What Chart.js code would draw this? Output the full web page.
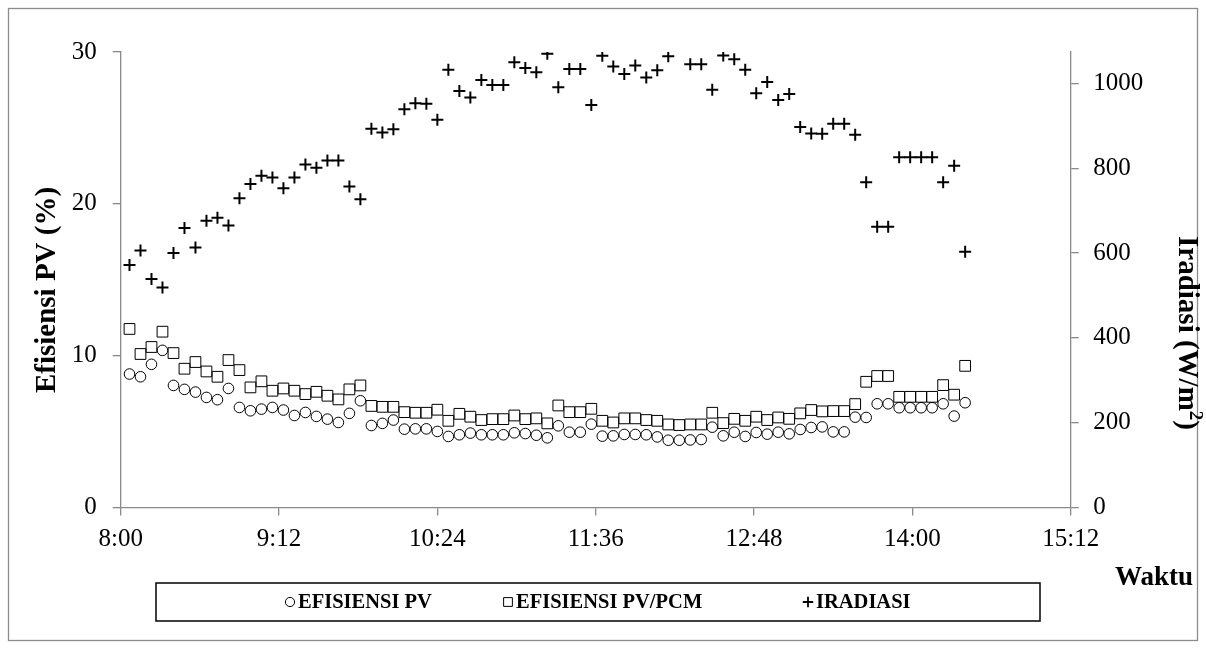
<!DOCTYPE html>
<html>
<head>
<meta charset="utf-8">
<script src="https://cdn.jsdelivr.net/npm/chart.js@4.4.1/dist/chart.umd.min.js"></script>
<style>
html,body{margin:0;padding:0;background:#fff;}
canvas{display:block;}
</style>
</head>
<body>
<canvas id="c" width="1206" height="648"></canvas>
<script>
const times = [
 "8:04","8:09","8:14","8:19","8:24","8:29","8:34","8:39","8:44","8:49",
 "8:54","8:59","9:04","9:09","9:14","9:19","9:24","9:29","9:34","9:39",
 "9:44","9:49","9:54","9:59","10:04","10:09","10:14","10:19","10:24","10:29",
 "10:34","10:39","10:44","10:49","10:54","10:59","11:04","11:09","11:14","11:19",
 "11:24","11:29","11:34","11:39","11:44","11:49","11:54","11:59","12:04","12:09",
 "12:14","12:19","12:24","12:29","12:34","12:39","12:44","12:49","12:54","12:59",
 "13:04","13:09","13:14","13:19","13:24","13:29","13:34","13:39","13:44","13:49",
 "13:54","13:59","14:04","14:09","14:14","14:19","14:24"
];
const efisiensiPV = [
 8.79,8.61,9.43,10.35,8.04,7.78,7.60,7.25,7.10,7.84,
 6.59,6.37,6.48,6.59,6.42,6.06,6.26,6.00,5.82,5.60,
 6.20,7.03,5.40,5.54,5.76,5.16,5.18,5.18,5.01,4.68,
 4.79,4.90,4.79,4.79,4.79,4.92,4.87,4.76,4.59,5.38,
 4.96,4.96,5.49,4.70,4.72,4.81,4.81,4.79,4.65,4.43,
 4.43,4.45,4.48,5.29,4.72,4.96,4.68,4.94,4.83,4.96,
 4.85,5.14,5.27,5.31,4.98,4.98,5.95,5.93,6.83,6.83,
 6.57,6.57,6.57,6.57,6.83,6.02,6.90
];
const efisiensiPVPCM = [
 11.76,10.11,10.57,11.58,10.17,9.14,9.58,8.96,8.61,9.71,
 9.05,7.91,8.31,7.69,7.84,7.69,7.47,7.62,7.36,7.12,
 7.78,8.04,6.69,6.63,6.63,6.28,6.24,6.24,6.44,5.71,
 6.17,5.98,5.76,5.82,5.82,6.06,5.82,5.87,5.54,6.72,
 6.28,6.28,6.50,5.71,5.60,5.87,5.87,5.76,5.71,5.47,
 5.43,5.47,5.47,6.24,5.56,5.84,5.71,5.98,5.76,5.93,
 5.84,6.20,6.42,6.33,6.35,6.35,6.81,8.28,8.66,8.66,
 7.29,7.29,7.29,7.29,8.06,7.43,9.33
];
const iradiasi = [
 572,606,539,519,600,659,613,676,683,665,
 729,763,782,778,753,778,809,801,818,818,
 757,727,893,884,892,939,953,952,914,1032,
 982,967,1008,996,996,1050,1036,1026,1070,991,
 1034,1034,949,1065,1040,1022,1042,1014,1031,1064,
 null,1045,1045,985,1066,1057,1032,977,1003,961,
 975,897,882,881,905,905,879,767,662,662,
 826,826,826,826,767,806,603
];
const xTickLabels = ["8:00","9:12","10:24","11:36","12:48","14:00","15:12"];
const leftTicks = [0,10,20,30];
const rightTicks = [0,200,400,600,800,1000];
const seriesNames = ["EFISIENSI PV","EFISIENSI PV/PCM","IRADIASI"];

function toMin(s){ const p = s.split(':'); return (+p[0])*60 + (+p[1]); }
function fmt(v){ const h = Math.floor(v/60), m = Math.round(v - h*60); return h + ':' + (m<10?'0':'') + m; }
function pts(arr){ return times.map((t,i)=>({x:toMin(t), y:arr[i]})).filter(p=>p.y!==null); }

const FONT = '"Liberation Serif", "Times New Roman", serif';
const AX = '#8a8a8a';

// legend layout (pixel placement of the custom legend)
const legendLayout = {box:[156, 583, 884, 38], cy:602, markerX:[290, 508, 808], markerR:[4.6, 6.2, 5.2]};

const decor = {
  id:'decor',
  beforeDraw(chart){
    const c = chart.ctx;
    c.save();
    c.fillStyle = '#fff';
    c.fillRect(0,0,chart.width,chart.height);
    c.strokeStyle = '#8c8c8c';
    c.lineWidth = 1.3;
    c.strokeRect(8.5, 8.5, 1189, 632);
    c.restore();
  },
  afterDraw(chart){
    const c = chart.ctx;
    c.save();
    // legend
    const L = legendLayout;
    c.strokeStyle = '#111';
    c.lineWidth = 1.6;
    c.strokeRect(L.box[0], L.box[1], L.box[2], L.box[3]);
    chart.data.datasets.forEach((ds, i) => {
      c.save();
      c.strokeStyle = ds.borderColor;
      c.fillStyle = 'rgba(0,0,0,0)';
      c.lineWidth = ds.pointStyle === 'cross' ? 1.8 : 1;
      Chart.helpers.drawPoint(c, {pointStyle: ds.pointStyle, radius: L.markerR[i], rotation: 0, borderWidth: c.lineWidth}, L.markerX[i], L.cy);
      c.restore();
      c.fillStyle = '#000';
      c.font = 'bold 20.5px ' + FONT;
      c.textAlign = 'left';
      c.textBaseline = 'middle';
      c.fillText(ds.label, L.markerX[i] + 8, L.cy + 1);
    });
    c.fillStyle = '#000';
    // left title
    c.save();
    c.font = 'bold 29px ' + FONT;
    c.translate(55, 290);
    c.rotate(-Math.PI/2);
    c.textAlign = 'center';
    c.textBaseline = 'alphabetic';
    c.fillText('Efisiensi PV (%)', 0, 0);
    c.restore();
    // right title with superscript
    c.save();
    c.translate(1179, 333);
    c.rotate(Math.PI/2);
    c.textBaseline = 'alphabetic';
    c.textAlign = 'left';
    const big = 'bold 29px ' + FONT, small = 'bold 19px ' + FONT;
    c.font = big; const w1 = c.measureText('Iradiasi (W/m').width, w3 = c.measureText(')').width;
    c.font = small; const w2 = c.measureText('2').width;
    let x = -(w1+w2+w3)/2;
    c.font = big; c.fillText('Iradiasi (W/m', x, 0); x += w1;
    c.font = small; c.fillText('2', x, -11); x += w2;
    c.font = big; c.fillText(')', x, 0);
    c.restore();
    // x title
    c.font = 'bold 27px ' + FONT;
    c.textAlign = 'center';
    c.textBaseline = 'middle';
    c.fillText('Waktu', 1154, 578);
    c.restore();
  }
};

const tickFont = {family: FONT, size: 25};
const gridOpts = {display:true, drawOnChartArea:false, drawTicks:true, tickLength:8, color:AX, lineWidth:1.3};
const borderOpts = {display:true, color:AX, width:1.3};

new Chart(document.getElementById('c'), {
  type:'scatter',
  data:{
    datasets:[
      {label:seriesNames[0], data:pts(efisiensiPV), yAxisID:'y', pointStyle:'circle', pointRadius:5.3, borderColor:'#000', backgroundColor:'rgba(0,0,0,0)', borderWidth:1},
      {label:seriesNames[1], data:pts(efisiensiPVPCM), yAxisID:'y', pointStyle:'rect', pointRadius:7.6, borderColor:'#000', backgroundColor:'rgba(0,0,0,0)', borderWidth:1},
      {label:seriesNames[2], data:pts(iradiasi), yAxisID:'y1', pointStyle:'cross', pointRadius:6, borderColor:'#000', backgroundColor:'#000', borderWidth:2}
    ]
  },
  options:{
    responsive:false,
    animation:false,
    devicePixelRatio:1,
    events:[],
    layout:{padding:{left:10, right:10, top:52, bottom:90.5}},
    scales:{
      x:{
        type:'linear', position:'bottom',
        min: toMin(xTickLabels[0]), max: toMin(xTickLabels[xTickLabels.length-1]),
        ticks:{stepSize:(toMin(xTickLabels[xTickLabels.length-1]) - toMin(xTickLabels[0]))/(xTickLabels.length-1),
               callback:v=>fmt(v), font:tickFont, color:'#000', padding:8.5, autoSkip:false, maxRotation:0},
        grid:gridOpts, border:borderOpts,
        afterFit:s=>{ s.height = 50; }
      },
      y:{
        position:'left', min:leftTicks[0], max:leftTicks[leftTicks.length-1],
        ticks:{stepSize:leftTicks[1]-leftTicks[0], font:tickFont, color:'#000', padding:16, callback:v=>String(v)},
        grid:gridOpts, border:borderOpts,
        afterFit:s=>{ s.width = 110.7; }
      },
      y1:{
        position:'right', min:rightTicks[0], max:1074,
        ticks:{stepSize:rightTicks[1]-rightTicks[0], includeBounds:false, font:tickFont, color:'#000', padding:14.6, callback:v=>String(v)},
        grid:gridOpts, border:borderOpts,
        afterFit:s=>{ s.width = 125.3; }
      }
    },
    plugins:{
      tooltip:{enabled:false},
      legend:{display:false}
    }
  },
  plugins:[decor]
});
</script>
</body>
</html>
